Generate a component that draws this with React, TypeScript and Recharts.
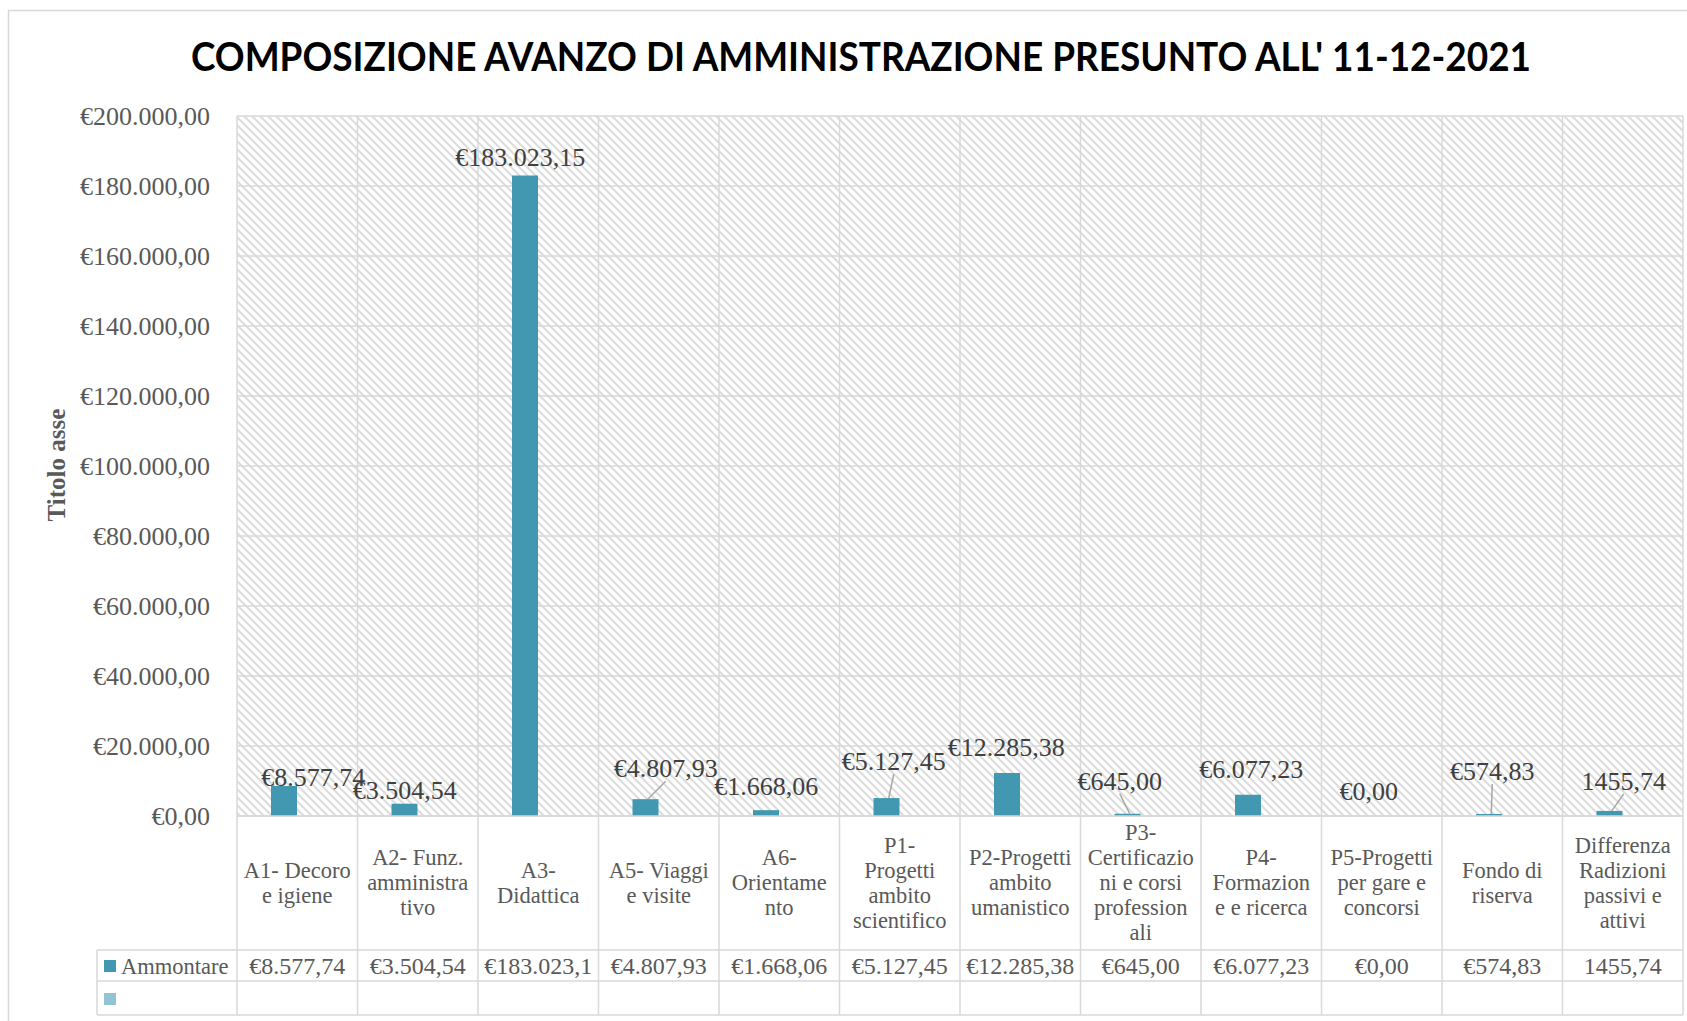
import React from 'react';
import { ComposedChart, Bar, Line, XAxis, YAxis, CartesianGrid, LabelList } from 'recharts';

// ---------- data ----------
const categories = [
  'A1- Decoro|e igiene',
  'A2- Funz.|amministra|tivo',
  'A3-|Didattica',
  'A5- Viaggi|e visite',
  'A6-|Orientame|nto',
  'P1-|Progetti|ambito|scientifico',
  'P2-Progetti|ambito|umanistico',
  'P3-|Certificazio|ni e corsi|profession|ali',
  'P4-|Formazion|e e ricerca',
  'P5-Progetti|per gare e|concorsi',
  'Fondo di|riserva',
  'Differenza|Radizioni|passivi e|attivi',
];
const ammontare = [8577.74, 3504.54, 183023.15, 4807.93, 1668.06, 5127.45, 12285.38, 645.0, 6077.23, 0, 574.83, 1455.74];
const serie2: (number | null)[] = [null, null, null, null, null, null, null, null, null, null, null, null];
const labelTexts = ['€8.577,74', '€3.504,54', '€183.023,15', '€4.807,93', '€1.668,06', '€5.127,45', '€12.285,38', '€645,00', '€6.077,23', '€0,00', '€574,83', '1455,74'];
const tableTexts = ['€8.577,74', '€3.504,54', '€183.023,1', '€4.807,93', '€1.668,06', '€5.127,45', '€12.285,38', '€645,00', '€6.077,23', '€0,00', '€574,83', '1455,74'];
const yTicks = [0, 20000, 40000, 60000, 80000, 100000, 120000, 140000, 160000, 180000, 200000];
const seriesName = 'Ammontare';
const titleText = "COMPOSIZIONE AVANZO DI AMMINISTRAZIONE PRESUNTO ALL' 11-12-2021";
const axisTitle = 'Titolo asse';

// ---------- label placement (style) ----------
const labelOffsets: [number, number][] = [
  [29, -9], [0, -14], [-5, -18], [20, -31], [0, -24], [7, -37],
  [-1, -26], [-8, -33], [3, -26], [0, -25], [3, -43], [14, -30],
];
const leaders = [false, false, false, true, false, true, false, true, false, false, true, true];

// ---------- layout ----------
const W = 1687;
const H = 1021;
const M = { top: 116, right: 4, bottom: 5, left: 0 };
const Y_AXIS_W = 237;
const X_AXIS_H = 200;
const PLOT_W = W - M.left - M.right - Y_AXIS_W;
const CELL_W = PLOT_W / categories.length;
const BAR_SIZE = 26;
const GRID = '#D9D9D9';
const SERIF = '"Liberation Serif", "DejaVu Serif", serif';
const BAR_COLOR = '#4198B0';
const BAR2_COLOR = '#93C4D6';

const data = categories.map((c, i) => ({ name: c, ammontare: ammontare[i], serie2: serie2[i] }));

const fmtEuro = (v: number) => {
  const int = Math.floor(v).toString().replace(/\B(?=(\d{3})+(?!\d))/g, '.');
  return '€' + int + ',00';
};

const XTick = (props: any) => {
  const { x, y, payload } = props;
  const i: number = payload.index;
  const lines = String(payload.value).split('|');
  const lh = 25;
  const cy = y + 66.5;
  const startY = cy - ((lines.length - 1) * lh) / 2;
  const left = x - CELL_W / 2;
  const right = x + CELL_W / 2;
  const isLast = i === categories.length - 1;
  return (
    <g>
      <line x1={left} y1={y} x2={left} y2={y + 199} stroke={GRID} strokeWidth={1.5} />
      {isLast && <line x1={right} y1={y} x2={right} y2={y + 199} stroke={GRID} strokeWidth={1.5} />}
      <line x1={left} y1={y + 134} x2={right} y2={y + 134} stroke={GRID} strokeWidth={1.5} />
      <line x1={left} y1={y + 165} x2={right} y2={y + 165} stroke={GRID} strokeWidth={1.5} />
      <line x1={left} y1={y + 199} x2={right} y2={y + 199} stroke={GRID} strokeWidth={1.5} />
      <text textAnchor="middle" fontFamily={SERIF} fontSize={22.5} fill="#595959">
        {lines.map((l, k) => (
          <tspan key={k} x={x} y={startY + k * lh + 7.5}>
            {l}
          </tspan>
        ))}
      </text>
      <text x={x} y={y + 149.5 + 8} textAnchor="middle" fontFamily={SERIF} fontSize={24} fill="#595959">
        {tableTexts[i]}
      </text>
    </g>
  );
};

// labels are attached to an invisible line so every point (also the zero one) gets one;
// the point sits at the category centre, the Ammontare bar is half a bar to its left.
const DataLabel = (props: any) => {
  const { x, y, index } = props;
  const i = Number(index);
  if (!(i >= 0 && i < labelTexts.length)) return null;
  const cx = Number(x) - BAR_SIZE / 2;
  const top = Number(y);
  const [dx, dy] = labelOffsets[i];
  const lx = cx + dx;
  const ly = top + dy;
  return (
    <g>
      {leaders[i] && (
        <line x1={cx + 2} y1={top} x2={lx} y2={ly + 13} stroke="#A6A6A6" strokeWidth={1.5} />
      )}
      <text x={lx} y={ly + 9} textAnchor="middle" fontFamily={SERIF} fontSize={26} fill="#404040">
        {labelTexts[i]}
      </text>
    </g>
  );
};

export default function App() {
  return (
    <div style={{ position: 'absolute', left: 0, top: 0, width: W, height: H, background: '#fff', overflow: 'hidden' }}>
      <ComposedChart width={W} height={H} data={data} margin={M} barSize={BAR_SIZE} barGap={0}>
        <defs>
          <pattern id="hatch" patternUnits="userSpaceOnUse" width={8} height={8}>
            <rect width={8} height={8} fill="#ffffff" />
            <path d="M-2,6 L2,10 M0,0 L8,8 M6,-2 L10,2" stroke="#DCDCDC" strokeWidth={2} />
          </pattern>
        </defs>
        <CartesianGrid
          stroke={GRID}
          strokeWidth={1.5}
          fill="url(#hatch)"
          fillOpacity={1}
          verticalCoordinatesGenerator={({ offset }: any) =>
            Array.from({ length: categories.length + 1 }, (_, k) => offset.left + (k * offset.width) / categories.length)
          }
        />
        <XAxis
          dataKey="name"
          height={X_AXIS_H}
          interval={0}
          tickSize={0}
          tickMargin={0}
          tickLine={false}
          axisLine={{ stroke: GRID, strokeWidth: 1.5 }}
          tick={<XTick />}
        />
        <YAxis
          width={Y_AXIS_W}
          domain={[0, 200000]}
          ticks={yTicks}
          interval={0}
          tickFormatter={fmtEuro}
          axisLine={false}
          tickLine={false}
          tickSize={0}
          tickMargin={27}
          tick={{ fontFamily: SERIF, fontSize: 26, fill: '#595959' }}
        />
        <Bar dataKey="ammontare" name={seriesName} fill={BAR_COLOR} isAnimationActive={false} />
        <Bar dataKey="serie2" name="" fill={BAR2_COLOR} isAnimationActive={false} />
        <Line
          dataKey="ammontare"
          stroke="none"
          dot={false}
          activeDot={false}
          legendType="none"
          isAnimationActive={false}
        >
          <LabelList dataKey="ammontare" content={<DataLabel />} />
        </Line>
      </ComposedChart>
      <svg width={W} height={H} style={{ position: 'absolute', left: 0, top: 0, pointerEvents: 'none' }}>
        <rect x={8.5} y={10.5} width={1700} height={1040} fill="none" stroke={GRID} strokeWidth={1.5} />
        <text
          x={861}
          y={71}
          textAnchor="middle"
          fontFamily="Lato, 'Open Sans', sans-serif"
          fontWeight={700}
          fontSize={40}
          fill="#000000"
          textLength={1340}
          lengthAdjust="spacingAndGlyphs"
        >
          {titleText}
        </text>
        <text
          x={56}
          y={465}
          transform="rotate(-90, 56, 465)"
          textAnchor="middle"
          dominantBaseline="central"
          fontFamily={SERIF}
          fontWeight={700}
          fontSize={25}
          fill="#595959"
        >
          {axisTitle}
        </text>
        <line x1={97} y1={950} x2={237} y2={950} stroke={GRID} strokeWidth={1.5} />
        <line x1={97} y1={981} x2={237} y2={981} stroke={GRID} strokeWidth={1.5} />
        <line x1={97} y1={1015} x2={237} y2={1015} stroke={GRID} strokeWidth={1.5} />
        <line x1={97} y1={950} x2={97} y2={1015} stroke={GRID} strokeWidth={1.5} />
        <rect x={104} y={960} width={12} height={12} fill={BAR_COLOR} />
        <text x={121} y={965.5 + 8} fontFamily={SERIF} fontSize={22.5} fill="#595959">
          {seriesName}
        </text>
        <rect x={104} y={993} width={12} height={12} fill={BAR2_COLOR} />
      </svg>
    </div>
  );
}
